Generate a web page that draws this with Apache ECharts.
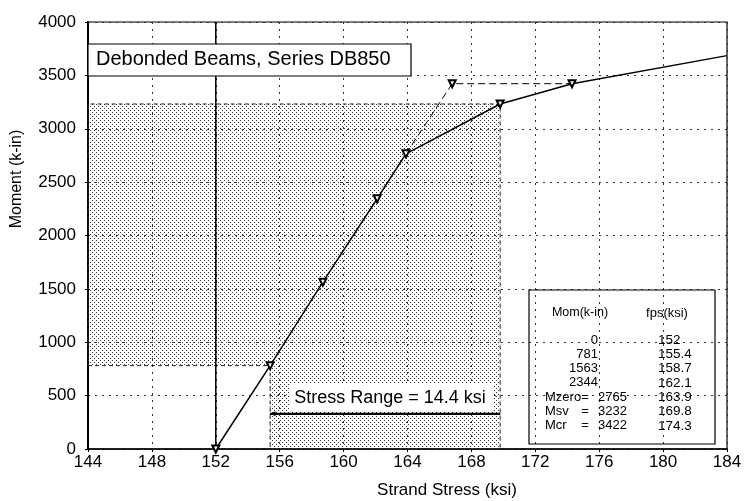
<!DOCTYPE html>
<html><head><meta charset="utf-8">
<script src="https://cdn.jsdelivr.net/npm/echarts/dist/echarts.min.js"></script>
<style>html,body{margin:0;padding:0;background:#fff}#c{width:747px;height:501px}</style>
</head><body><div id="c"></div>
<script>
// ---- data ----
const xMin = 144, xMax = 184, xStep = 4;
const yMin = 0, yMax = 4000, yStep = 500;
const fpsValues = [152, 155.4, 158.7, 162.1, 163.9, 169.8, 174.3];
const momValues = [0, 781, 1563, 2344, 2765, 3232, 3422];
const momNames = ['', '', '', '', 'Mzero', 'Msv', 'Mcr'];
const curveEndX = 184, curveEndY = 3685;
const dashedX = [163.9, 166.8, 174.3];
const dashedY = [2765, 3422, 3422];
const shadeX = [144, 155.4, 155.4, 169.8, 169.8, 144];
const shadeY = [781, 781, 0, 0, 3232, 3232];
const refLineX = 152;
const stressRangeX = [155.4, 169.8];
const stressRangeY = 330;
const titleText = 'Debonded Beams, Series DB850';
const stressLabel = 'Stress Range = 14.4 ksi';
const xTitle = 'Strand Stress (ksi)';
const yTitle = 'Moment (k-in)';
const tableHeaders = ['Mom(k-in)', 'fps(ksi)'];

const FONT = '"Liberation Sans", Arial, Helvetica, sans-serif';

// dotted pattern tile
const tile = document.createElement('canvas');
tile.width = 4; tile.height = 4;
const tctx = tile.getContext('2d');
tctx.fillStyle = '#333';
tctx.fillRect(0, 0, 1, 1);
tctx.fillRect(2, 2, 1, 1);

const chart = echarts.init(document.getElementById('c'), null, {renderer: 'canvas'});

const mainData = fpsValues.map((x, i) => [x, momValues[i]]);
mainData.push({value: [curveEndX, curveEndY], symbol: 'none'});
const dashData = dashedX.map((x, i) => (i === 1 ? [x, dashedY[i]] : {value: [x, dashedY[i]], symbol: 'none'}));

// table graphics
const tbl = [];
const rowY0 = 340, rowStep = 14.3;
tbl.push({type: 'rect', shape: {x: 529, y: 290, width: 186, height: 154}, style: {fill: 'none', stroke: '#000', lineWidth: 1.2}, z: 100});
tbl.push({type: 'text', x: 580, y: 313, style: {text: tableHeaders[0], font: '12.5px ' + FONT, fill: '#000', textAlign: 'center', textVerticalAlign: 'middle'}, z: 101});
tbl.push({type: 'text', x: 667, y: 313, style: {text: tableHeaders[1], font: '13px ' + FONT, fill: '#000', textAlign: 'center', textVerticalAlign: 'middle'}, z: 101});
momValues.forEach((m, i) => {
  const y = rowY0 + i * rowStep;
  if (momNames[i]) {
    tbl.push({type: 'text', x: 545, y, style: {text: momNames[i], font: '13px ' + FONT, fill: '#000', textAlign: 'left', textVerticalAlign: 'middle'}, z: 101});
    tbl.push({type: 'text', x: 585, y, style: {text: '=', font: '13px ' + FONT, fill: '#000', textAlign: 'center', textVerticalAlign: 'middle'}, z: 101});
    tbl.push({type: 'text', x: 627, y, style: {text: String(m), font: '13px ' + FONT, fill: '#000', textAlign: 'right', textVerticalAlign: 'middle'}, z: 101});
  } else {
    tbl.push({type: 'text', x: 598, y, style: {text: String(m), font: '13px ' + FONT, fill: '#000', textAlign: 'right', textVerticalAlign: 'middle'}, z: 101});
  }
  tbl.push({type: 'text', x: 658, y, style: {text: String(fpsValues[i]), font: '13.5px ' + FONT, fill: '#000', textAlign: 'left', textVerticalAlign: 'middle'}, z: 101});
});

const option = {
  animation: false,
  backgroundColor: '#fff',
  grid: {left: 88, right: 20, top: 22, bottom: 52, show: true, borderColor: '#000', borderWidth: 1.2, backgroundColor: 'transparent'},
  xAxis: {
    type: 'value', min: xMin, max: xMax, interval: xStep,
    axisLine: {show: true, onZero: false, lineStyle: {color: '#000', width: 1.5}},
    axisTick: {show: true, length: 3, lineStyle: {color: '#000'}},
    axisLabel: {color: '#000', fontSize: 17, fontFamily: FONT, margin: 5, formatter: v => String(v)},
    splitLine: {show: true, lineStyle: {color: '#333', type: [2, 5], width: 1}}
  },
  yAxis: {
    type: 'value', min: yMin, max: yMax, interval: yStep,
    axisLine: {show: true, onZero: false, lineStyle: {color: '#000', width: 2}},
    axisTick: {show: true, length: 3, lineStyle: {color: '#000'}},
    axisLabel: {color: '#000', fontSize: 17, fontFamily: FONT, margin: 12, formatter: v => String(v)},
    splitLine: {show: true, lineStyle: {color: '#333', type: [2, 5], width: 1}}
  },
  series: [
    {
      type: 'custom', silent: true, z: 1,
      data: [[xMin, yMin]],
      renderItem: function (params, api) {
        const pts = shadeX.map((x, i) => api.coord([x, shadeY[i]]));
        return {type: 'polygon', shape: {points: pts},
          style: {fill: {image: tile, repeat: 'repeat'}, stroke: '#222', lineWidth: 1, lineDash: [4, 3]}};
      }
    },
    {
      type: 'line', z: 3, silent: true, symbol: 'none',
      data: [[refLineX, yMin], [refLineX, yMax]],
      lineStyle: {color: '#000', width: 1.5}
    },
    {
      type: 'line', z: 4, silent: true, symbol: 'none',
      data: [[stressRangeX[0], stressRangeY], [stressRangeX[1], stressRangeY]],
      lineStyle: {color: '#000', width: 2},
      markLine: {
        silent: true, symbol: ['arrow', 'none'], symbolSize: [4, 6],
        label: {show: false},
        lineStyle: {color: '#000', width: 2, type: 'solid'},
        data: [[{coord: [stressRangeX[0], stressRangeY]}, {coord: [stressRangeX[1], stressRangeY]}]]
      }
    },
    {
      type: 'line', z: 5, silent: true,
      data: dashData,
      symbol: 'emptyTriangle', symbolRotate: 180, symbolSize: 7,
      lineStyle: {color: '#000', width: 1, type: [7, 4]},
      itemStyle: {color: '#000', borderColor: '#000', borderWidth: 1}
    },
    {
      type: 'line', z: 6, silent: true,
      data: mainData,
      symbol: 'emptyTriangle', symbolRotate: 180, symbolSize: 7,
      lineStyle: {color: '#000', width: 1.5},
      itemStyle: {color: '#000', borderColor: '#000', borderWidth: 1}
    }
  ],
  graphic: [
    {type: 'rect', shape: {x: 88, y: 44, width: 323, height: 32}, style: {fill: '#fff', stroke: '#000', lineWidth: 1.2}, z: 100},
    {type: 'text', x: 96, y: 59, style: {text: titleText, font: '20px ' + FONT, fill: '#000', textAlign: 'left', textVerticalAlign: 'middle'}, z: 101},
    {type: 'rect', shape: {x: 290, y: 383, width: 204, height: 29}, style: {fill: '#fff'}, z: 100},
    {type: 'text', x: 390, y: 398, style: {text: stressLabel, font: '18px ' + FONT, fill: '#000', textAlign: 'center', textVerticalAlign: 'middle'}, z: 101},
    {type: 'text', x: 447, y: 490, style: {text: xTitle, font: '17px ' + FONT, fill: '#000', textAlign: 'center', textVerticalAlign: 'middle'}, z: 101},
    {type: 'text', x: 17, y: 179, rotation: Math.PI / 2, style: {text: yTitle, font: '16px ' + FONT, fill: '#000', textAlign: 'center', textVerticalAlign: 'middle'}, z: 101}
  ].concat(tbl)
};
chart.setOption(option);
</script>
</body></html>
